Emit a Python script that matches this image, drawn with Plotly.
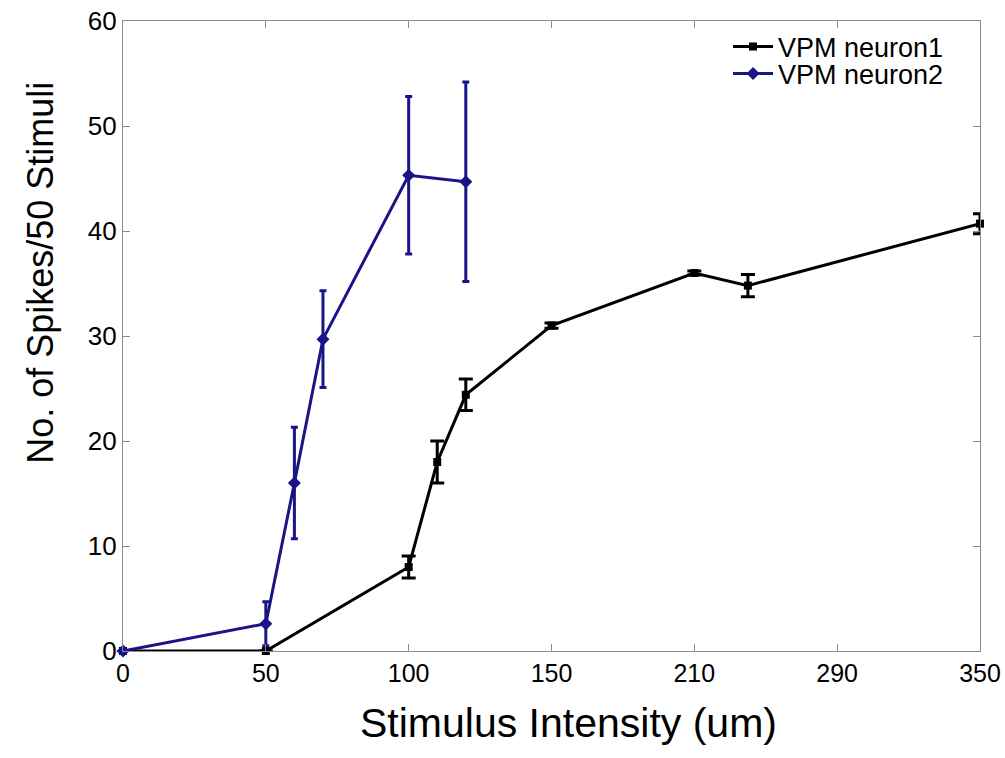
import numpy as np
import plotly.graph_objects as go

# Stimulus intensity tick values (axis is evenly spaced between these ticks)
tick_vals = [0, 50, 100, 150, 210, 290, 350]
tick_text = [str(v) for v in tick_vals]

# VPM neuron1
n1_x = [0, 50, 100, 110, 120, 150, 210, 240, 350]
n1_y = [0, 0, 8.0, 18.0, 24.4, 31.0, 36.0, 34.8, 40.7]
n1_err = [0, 0, 1.05, 2.0, 1.5, 0.25, 0.2, 1.05, 0.95]

# VPM neuron2
n2_x = [0, 50, 60, 70, 100, 120]
n2_y = [0, 2.6, 16.0, 29.7, 45.3, 44.7]
n2_err = [0, 2.1, 5.3, 4.6, 7.5, 9.5]

tick_pos = list(range(len(tick_vals)))


def to_axis(xs):
    # piecewise-linear placement between the labelled ticks
    return np.interp(xs, tick_vals, tick_pos)


BLACK = "#000000"
BLUE = "#1a1488"
FONT = "Liberation Sans, Arial, Helvetica, sans-serif"

fig = go.Figure()

fig.add_trace(go.Scatter(
    x=to_axis(n1_x), y=n1_y, name="VPM neuron1", mode="lines+markers",
    line=dict(color=BLACK, width=3),
    marker=dict(symbol="square", size=8, color=BLACK),
    error_y=dict(type="data", array=n1_err, visible=True, color=BLACK,
                 thickness=3, width=7),
    cliponaxis=False, legend="legend",
))

fig.add_trace(go.Scatter(
    x=to_axis(n2_x), y=n2_y, name="VPM neuron2", mode="lines+markers",
    line=dict(color=BLUE, width=3),
    marker=dict(symbol="diamond", size=10, color=BLUE),
    error_y=dict(type="data", array=n2_err, visible=True, color=BLUE,
                 thickness=3, width=3.5),
    cliponaxis=False, legend="legend2",
))

axis_common = dict(
    showline=True, linecolor="#8c8c8c", linewidth=1.3, mirror="ticks",
    ticks="inside", ticklen=7, tickwidth=1.3, tickcolor="#8c8c8c",
    showgrid=False, zeroline=False, automargin=False,
)

fig.update_xaxes(
    range=[0, 6], tickmode="array", tickvals=tick_pos, ticktext=tick_text,
    tickfont=dict(family=FONT, size=25, color="black"),
    **axis_common,
)

fig.update_yaxes(
    range=[0, 60], tickmode="array", tickvals=[0, 10, 20, 30, 40, 50, 60],
    tickfont=dict(family=FONT, size=26, color="black"),
    **axis_common,
)

# axis titles
fig.add_annotation(
    text="Stimulus Intensity (um)", xref="paper", yref="paper",
    x=0.52, y=-0.115, xanchor="center", yanchor="middle", showarrow=False,
    font=dict(family=FONT, size=41, color="black"),
)
fig.add_annotation(
    text="No. of Spikes/50 Stimuli", xref="paper", yref="paper",
    x=-0.097, y=0.60, xanchor="center", yanchor="middle", showarrow=False,
    textangle=-90, font=dict(family=FONT, size=36, color="black"),
)

legend_common = dict(
    xanchor="left", yanchor="middle", bgcolor="rgba(0,0,0,0)", borderwidth=0,
    font=dict(family=FONT, size=27, color="black"), itemwidth=40,
)

fig.update_layout(
    width=1005, height=758,
    margin=dict(l=123, r=25, t=21, b=107),
    paper_bgcolor="white", plot_bgcolor="white",
    font=dict(family=FONT, color="black"),
    showlegend=True,
    legend=dict(x=0.706, y=0.959, **legend_common),
    legend2=dict(x=0.706, y=0.916, **legend_common),
)

fig.write_html("out.html")
